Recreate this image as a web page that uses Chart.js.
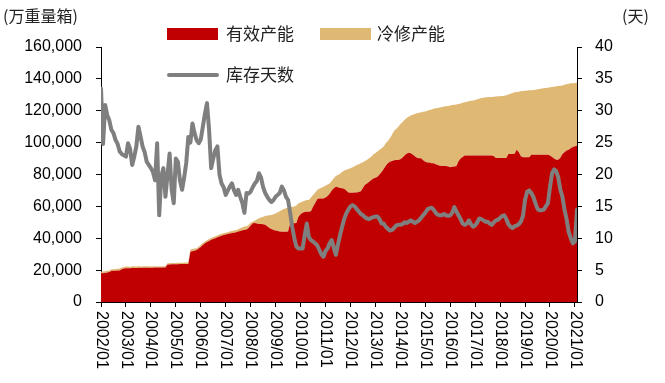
<!DOCTYPE html>
<html>
<head>
<meta charset="utf-8">
<script src="https://cdn.jsdelivr.net/npm/chart.js@4.4.1/dist/chart.umd.min.js"></script>
<style>
  html, body { margin: 0; padding: 0; background: #fff; }
  #wrap { width: 665px; height: 383px; }
</style>
</head>
<body>
<div id="wrap"><canvas id="c" width="665" height="383"></canvas></div>
<script>
/* 浮法玻璃：有效产能 / 冷修产能（万重量箱）与库存天数，月度 2002/01 – 2021/02 */

const xTickLabels = ['2002/01', '2003/01', '2004/01', '2005/01', '2006/01', '2007/01', '2008/01', '2009/01', '2010/01', '2011/01',
    '2012/01', '2013/01', '2014/01', '2015/01', '2016/01', '2017/01', '2018/01', '2019/01', '2020/01', '2021/01'];

// 有效产能, one value per month from 2002/01
const capEffective = [
    18000, 18000, 18200, 18500, 18800, 19500, 19600, 19600, 19700, 19800, 20500, 21000,
    21100, 21100, 21200, 21300, 21300, 21300, 21400, 21500, 21500, 21500, 21500, 21500,
    21500, 21500, 21600, 21600, 21600, 21600, 21600, 21700, 23600, 23600, 23700, 23700,
    23700, 23700, 23800, 23800, 23800, 23900, 23900, 31600, 31800, 32200, 32600, 33500,
    34500, 35800, 36800, 37600, 38300, 39000, 39600, 40000, 40600, 41100, 41600, 42000,
    42300, 42700, 43000, 43300, 43500, 43800, 44200, 44600, 45000, 45200, 45500, 46500,
    48000, 49400, 49500, 49200, 49000, 48900, 48800, 48500, 47500, 46500, 45800, 45200,
    44800, 44500, 44200, 44100, 44100, 44100, 44200, 49400, 49400, 49400, 49500, 53500,
    55000, 56000, 56500, 56700, 56700, 57000, 59800, 62000, 64500, 65000, 65000, 65000,
    65500, 66500, 68000, 70000, 71300, 72300, 72000, 71500, 71300, 71000, 70000, 68700,
    68500, 68500, 68700, 68700, 69000, 69500, 71500, 73500, 74400, 75500, 76500, 77500,
    78000, 78600, 80000, 81500, 83500, 85500, 87000, 88000, 88500, 89000, 89100, 89100,
    89500, 90500, 92000, 93000, 93700, 93300, 92500, 91500, 90500, 90200, 90200, 89000,
    88000, 87500, 87500, 87000, 87000, 86500, 86000, 85500, 85300, 85300, 85300, 85000,
    84500, 84800, 85000, 85300, 88300, 90000, 91000, 92000, 92000, 92000, 92000, 92000,
    92000, 92000, 92000, 92000, 92000, 92000, 92000, 92000, 92000, 91500, 90400, 90400,
    90400, 90400, 90400, 90400, 92900, 92900, 92900, 93000, 95600, 94000, 91500, 90800,
    90800, 90800, 90800, 92400, 92400, 92400, 92400, 92400, 92400, 92400, 92400, 92400,
    92000, 91000, 90000, 89300, 89300, 90500, 92900, 94000, 95000, 95600, 96500, 97300,
    97700, 98000
];

// 冷修产能 (stacked on top of 有效产能)
const capColdRepair = [
    1000, 1100, 1100, 1100, 1000, 1000, 1000, 1100, 1100, 1200, 1100, 1000,
    1100, 1200, 800, 1200, 1100, 1000, 1200, 800, 700, 900, 1000, 900,
    800, 1000, 800, 700, 800, 700, 800, 800, 700, 700, 800, 700,
    800, 900, 800, 900, 1000, 900, 1000, 1400, 1400, 1400, 1200, 1100,
    1300, 1200, 1200, 1200, 1200, 1200, 1200, 1200, 1200, 1200, 1200, 1100,
    1100, 1100, 1200, 1200, 1300, 1400, 1500, 1600, 1700, 2100, 2100, 1800,
    1800, 1000, 1500, 2600, 3500, 4100, 4700, 5500, 6800, 8000, 8800, 9800,
    10800, 11800, 12800, 13600, 14200, 14700, 15000, 10100, 10400, 10600, 11000, 8400,
    7500, 7000, 7000, 7300, 7300, 8500, 7300, 6500, 5800, 6000, 6700, 7300,
    7500, 7300, 6400, 6000, 6300, 6700, 7700, 9000, 10200, 11500, 13000, 14800,
    15500, 16100, 16500, 17300, 17500, 17500, 16200, 14900, 14900, 14700, 14700, 15000,
    15500, 15900, 15500, 14900, 14000, 14100, 14000, 14700, 16500, 18500, 19400, 20900,
    22000, 22300, 22200, 22500, 22600, 23700, 25000, 26500, 27900, 28600, 28900, 30400,
    31600, 32500, 32900, 33800, 34200, 35000, 35800, 36600, 37100, 37400, 37500, 38000,
    38800, 38800, 38800, 38700, 35900, 34600, 34000, 33400, 33700, 34000, 34300, 34500,
    34800, 35200, 35600, 36000, 36200, 36400, 36500, 36600, 36700, 37300, 38600, 38700,
    38700, 38800, 39000, 39300, 37300, 37800, 38300, 38600, 36200, 38000, 40700, 41600,
    41800, 41900, 42000, 40400, 40600, 40800, 41100, 41300, 41500, 41700, 41900, 42100,
    42700, 43900, 45100, 46000, 46200, 45200, 43000, 42300, 41700, 41400, 40700, 40000,
    39700, 39500
];

// 库存天数 (right axis)
const stockDays = [
    33.5, 24.8, 30.9, 29.3, 28.5, 27.0, 26.5, 25.4, 24.8, 23.6, 23.2, 23.0,
    22.8, 24.9, 24.0, 21.5, 22.8, 24.4, 27.5, 26.0, 24.4, 23.5, 22.0, 21.5,
    21.0, 20.4, 19.1, 24.9, 13.6, 19.7, 21.0, 16.5, 20.0, 23.3, 17.6, 15.5,
    22.5, 22.0, 19.0, 17.6, 19.5, 21.8, 25.9, 25.0, 28.0, 26.5, 25.4, 24.9,
    25.5, 27.5, 29.5, 31.2, 27.0, 21.0, 22.5, 23.8, 24.4, 20.0, 18.6, 18.0,
    16.8, 17.5, 18.1, 18.6, 17.5, 16.8, 17.6, 16.5, 15.5, 14.0, 17.1, 17.0,
    17.3, 18.0, 18.6, 19.0, 20.2, 19.5, 18.0, 17.1, 16.5, 16.0, 15.7, 16.0,
    16.5, 16.8, 17.1, 18.1, 17.5, 16.5, 16.0, 14.0, 11.8, 10.0, 8.7, 8.4,
    8.4, 8.4, 10.5, 12.3, 10.2, 9.7, 9.5, 9.2, 8.9, 8.2, 7.5, 7.1,
    8.0, 8.4, 9.2, 9.7, 8.5, 7.4, 9.0, 10.5, 11.8, 13.0, 13.9, 14.5,
    15.0, 15.2, 15.0, 14.6, 14.2, 13.8, 13.6, 13.3, 13.1, 13.0, 13.2, 13.3,
    13.4, 13.4, 13.0, 12.3, 12.3, 11.8, 11.5, 11.2, 11.3, 11.6, 12.0, 12.1,
    12.1, 12.2, 12.5, 12.4, 12.6, 12.8, 12.6, 12.4, 12.6, 12.8, 13.2, 13.6,
    14.0, 14.5, 14.7, 14.8, 14.5, 14.0, 13.7, 13.6, 13.6, 13.8, 13.6, 13.5,
    13.6, 14.0, 14.9, 14.2, 13.6, 13.0, 12.3, 12.1, 12.3, 12.8, 12.2, 11.8,
    12.0, 12.5, 13.1, 13.0, 12.8, 12.6, 12.6, 12.3, 12.1, 12.5, 12.8, 12.9,
    13.2, 13.5, 13.6, 13.0, 12.2, 11.8, 11.6, 11.9, 12.0, 12.2, 12.6, 13.5,
    16.0, 17.3, 17.5, 17.1, 16.5, 15.5, 14.6, 14.4, 14.4, 14.5, 15.0, 15.5,
    18.0, 20.2, 20.8, 20.5, 19.5, 17.6, 16.5, 14.5, 13.0, 11.0, 10.0, 9.2,
    9.5, 14.5
];

const RED = '#C00000', TAN = '#DFB873', GREY = '#7F7F7F';
const NUM_FONT = '"Liberation Sans", Arial, sans-serif';
const CJK_FONT = '"Noto Sans CJK SC", sans-serif';

const pts = arr => arr.map((v, i) => ({ x: i, y: v }));

// rotated x labels, unit captions and the two-row legend
const overlay = {
    id: 'overlay',
    afterDraw(chart) {
        const { ctx } = chart;
        const xs = chart.scales.x;
        ctx.save();
        ctx.fillStyle = '#000';
        ctx.font = '16px ' + NUM_FONT;
        ctx.textAlign = 'left';
        ctx.textBaseline = 'middle';
        xTickLabels.forEach((t, i) => {
            ctx.save();
            ctx.translate(xs.getPixelForValue(i * 12), 311);
            ctx.rotate(Math.PI / 2);
            ctx.fillText(t, 0, 0);
            ctx.restore();
        });

        ctx.fillStyle = '#222';
        ctx.font = '16px ' + CJK_FONT;
        ctx.fillText('(万重量箱)', 3, 16);
        ctx.fillText('(天)', 622, 16);

        ctx.font = '17px ' + CJK_FONT;
        ctx.fillStyle = RED;
        ctx.fillRect(167, 28, 51, 12);
        ctx.fillStyle = TAN;
        ctx.fillRect(320, 28, 51, 12);
        ctx.strokeStyle = GREY;
        ctx.lineWidth = 4;
        ctx.lineCap = 'round';
        ctx.beginPath(); ctx.moveTo(169, 75); ctx.lineTo(217, 75); ctx.stroke();
        ctx.fillStyle = '#222';
        ctx.fillText('有效产能', 226, 34);
        ctx.fillText('冷修产能', 377, 34);
        ctx.fillText('库存天数', 226, 75);
        ctx.restore();
    }
};

new Chart(document.getElementById('c'), {
    type: 'line',
    data: {
        datasets: [
            { label: '有效产能', data: pts(capEffective), yAxisID: 'y', order: 0,
              backgroundColor: RED, borderWidth: 0, fill: 'origin', pointRadius: 0, tension: 0 },
            { label: '冷修产能', data: pts(capColdRepair), yAxisID: 'y', order: 1,
              backgroundColor: TAN, borderWidth: 0, fill: '-1', pointRadius: 0, tension: 0 },
            { label: '库存天数', data: pts(stockDays), yAxisID: 'y1', order: -1,
              borderColor: GREY, borderWidth: 4, fill: false, pointRadius: 0, tension: 0,
              borderJoinStyle: 'round', borderCapStyle: 'round' },
        ]
    },
    options: {
        responsive: false,
        animation: false,
        devicePixelRatio: 1,
        layout: { padding: { top: 47, left: 0, right: 0, bottom: 0 } },
        plugins: { legend: { display: false }, tooltip: { enabled: false } },
        scales: {
            x: {
                type: 'linear', min: 0, max: 229,
                afterBuildTicks: s => { s.ticks = xTickLabels.map((_, i) => ({ value: i * 12 })); },
                afterFit: s => { s.height = 81; },
                ticks: { autoSkip: false, callback: () => '' },
                grid: { drawOnChartArea: false, color: '#000', tickLength: 5, lineWidth: 1 },
                border: { color: '#000', width: 1 },
            },
            y: {
                stacked: true, min: 0, max: 160000,
                afterFit: s => { s.width = 101; },
                ticks: { stepSize: 20000, padding: 14, color: '#000',
                         font: { family: NUM_FONT, size: 16 },
                         callback: v => v.toLocaleString('en-US') },
                grid: { drawOnChartArea: false, color: '#000', tickLength: 5 },
                border: { color: '#000', width: 1 },
            },
            y1: {
                position: 'right', min: 0, max: 40,
                afterFit: s => { s.width = 88; },
                ticks: { stepSize: 5, padding: 13, color: '#000',
                         font: { family: NUM_FONT, size: 16 } },
                grid: { drawOnChartArea: false, color: '#000', tickLength: 5 },
                border: { color: '#000', width: 1 },
            }
        }
    },
    plugins: [overlay]
});
</script>
</body>
</html>
